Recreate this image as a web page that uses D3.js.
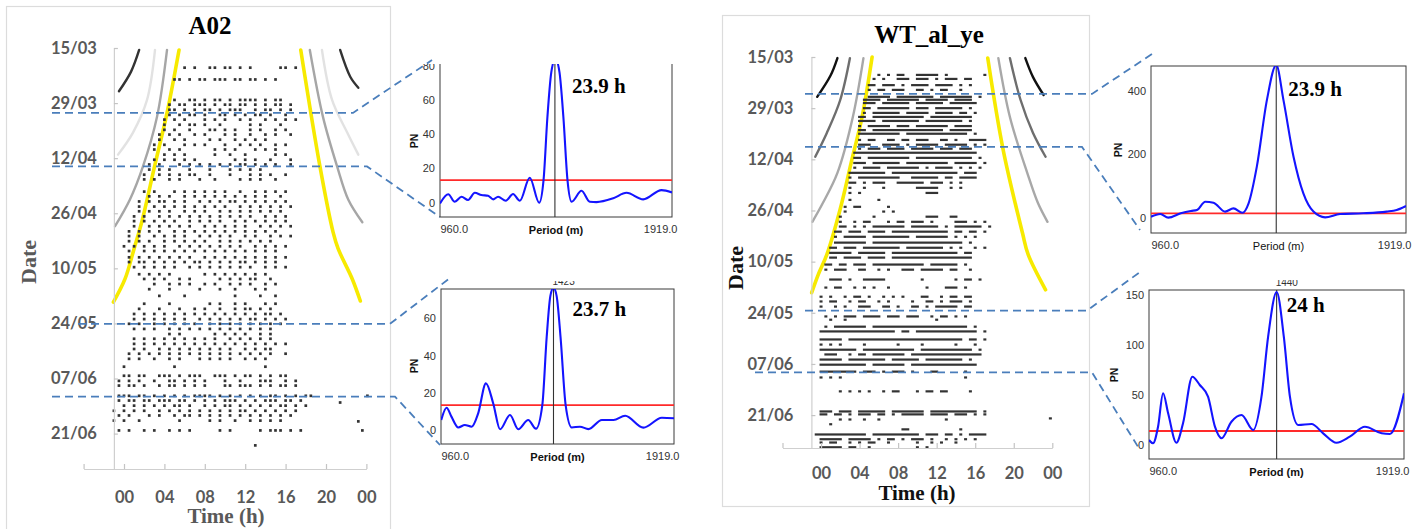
<!DOCTYPE html>
<html><head><meta charset="utf-8">
<script src="https://cdn.jsdelivr.net/npm/d3@7/dist/d3.min.js"></script>
<style>html,body{margin:0;padding:0;background:#fff;} svg{display:block;}</style>
</head><body>
<svg id="chart" width="1425" height="529"></svg>
<script>
// ================= DATA =================
const panelTitles = ["A02", "WT_al_ye"];
const dateTickDays = [0, 14, 28, 42, 56, 70, 84, 98];
const dateTickLabels = ["15/03","29/03","12/04","26/04","10/05","24/05","07/06","21/06"];
const hourTicks = [-4, 0, 4, 8, 12, 16, 20, 24];
const hourTickLabels = ["", "00", "04", "08", "12", "16", "20", "00"];
const dayDomain = [0, 107];
const hourDomain = [-4, 24];
const axisCrossHour = -1;
const binStartHour = -1;   // first character of every activity row
const binHours = 0.5;      // each character = 30 min

// A02 activity rows: [day since 15/03, activity string ('o' = active bin)]
const a02Rows = [
 [5,   "..............o.o..oo.oo.o.o.....oo.o."],
 [8,   "............oo.o.oo.ooo.oo.oo.o.o....."],
 [13.2,"............o..oo.o.oo.o.oooo.o.oo...."],
 [14.4,"...........o.oo.ooo.o.oo.oo.o.o.oo.o.."],
 [15.7,"...........oo.o.o.oo.o.ooo..o.oo.o.o.."],
 [17,  "...........o.o.oo.o..oo.o.o.oo.o..o..."],
 [18.2,"..........o.o.o...o.o.o..o.o..o.o.o.o."],
 [19.5,"..........o..o.oo.o..o.....o.o...o...."],
 [20.8,"..........o.o..o...oo.o.o..o.o..o.o..."],
 [22,  ".........o.o.o..o.o...o.o..o..o.o..o.."],
 [23.3,".........o..o.o....o.o..o.o.o.o......."],
 [24.6,"........o.o...o.o.o...o..o.o.o..o.o..."],
 [25.8,"........o..o.o......o.o.o...o.o.o....."],
 [27.1,"..........o.o.o.....o..o..o.....o.o..."],
 [28.4,"........o.o.o.o.o.......o.o.o..o...o.."],
 [29.6,".......o.o...o.o.o.o.o.o.oo.o.o.o..o.."],
 [30.9,".......o.o.o...o...o...o.o.o.o......."],
 [32.2,"......o..o.o.o.oo..o...o...o.o.o..o..."],
 [33.4,"......o.o..o.o...o..o....o.o.o..o....."],
 [36.5,"......o.o...o.o.o.o.o.o..o..o.o.o.o..."],
 [37.7,".......o.o.o..o.o.o.o.o.o.o.o.o..o...."],
 [39,  ".....o.o.oo.o.o..o.o.o.oo.o.o.o.o.o..."],
 [40.3,".....o..o.o.o.o.o.o.o.o..o.o.o.o.o.o.."],
 [41.5,".....o.o.o.o..o.o.o..o.o.o.o.o.o.o...."],
 [42.8,"....o.o..o.o.o.o.o.o.o.o.o.o..o.o.o..."],
 [44,  "....o.o.o.o.o..o.o.o.o..o.o.o.o.o.o..."],
 [45.3,"....o..o.o.o.o.o..o.o.o.o.o..o.o.o.o.."],
 [46.6,"...o.o.o.o..o.o.o.o.o.o.o.o.o.o.o....."],
 [47.8,"...o.o..o.o.o.o..o.o.o.o..o.o..o.o.o.."],
 [49.1,"...o.o.o..o.o.o.o.o..o.o.o.o.o.o......"],
 [50.4,"..o.o.o.o.o..o.o.o.o.o.o.o..o.o.o.o..."],
 [51.6,"...o..o.o.o.o.o.o.o.o.o.o.o.o.o.o....."],
 [53.2,"...o.o.o.o.o.o.o..o.o.o.o.o.o.o.o.o..."],
 [54.4,"...o.oo.o.o.o.o.oo.o.o.o.oo.o.o.o....."],
 [55.7,"....o.o.o.o.o..o.o.o.o.o.o.o..o.o.o..."],
 [57.5,".....o.o.o.o......o.o.o.o.o.o.o......."],
 [58.7,"......o.o.o..o.o.....o.o.o.oo..o......"],
 [60,  "........o..o.o.o..o.o..o.o.o..o.o....."],
 [61.3,".......o...o.....o...o..o...o.o......."],
 [63,  ".........o....o.........o....o..o....."],
 [65,  "......o....o.......o.o..o.o...o.o....."],
 [66.3,".....o...o...o..o.o..o..o.oo.o.o......"],
 [67.6,"....o.o.o.o.o.o.o.o.o.o.o.o.o.oo.o...."],
 [68.9,"....o.o.o.o.o.o..o.o.o.o.o.oo.o.o.o..."],
 [70.1,"...o.o..o.o.o.o.o..o.o.o.o.o.o.o.o...."],
 [71.4,"....o.o.o..o.o.o.o.o.o.o.o.o.o.o......"],
 [72.7,"...........o.o......o.o.o.o..o.o......"],
 [73.9,"....o.o.o.o.o.o.o.o.o..o.o.o.o.o......"],
 [75.2,"....o.o.o.o.o.o.o.o.o.o.o.o.o.o.o.o..."],
 [76.5,"....o.o..o.o.o.o.o.o.o.o..o.o.oo......"],
 [77.7,"...o.o.o.o.o.o.o.o.o.o.o.o.o.o.o..o..."],
 [79,  "...o.o..o..o.o...o.o.o.o..o.o.o......"],
 [81,  "..o.........o.................o......"],
 [83.3,"..oo.oo..ooo.o.ooo..ooo.o.oo.o.o.oo..."],
 [84.6,".o.o.o..o..oo.o.o.o...o..o...ooo..o.o.."],
 [85.8,".o.oo.o..o.oo.o.o.o...oo.ooo.o.o.oo.o.."],
 [88.4,".ooo.oo.o.o.o.o.oooo.o.o.o.o.o.oo.o.o.oo"],
 [89.6,".o.oo.oo.ooo.oo.o.o.o.ooo.o.o.ooo.oo.o."],
 [90.9,"..o.o.o.o.o.oo.o..o.o.oo.o.o.o.o.oo.o.o"],
 [92.2,"o.o.o.o..o.o.o.o.o.o.o.o.oo.o.o.o.o.o.."],
 [93.4,".o.o...o.o..o.oo.o.o.o.o.o.o.o.o.o.o..."],
 [94.7,"o.o..o.......o.....o.o..o..o.o.o.o...."],
 [97.2,".o.o..o.o..o.o.o.....o.o.....o.ooo.o.o."],
 [101, "............................o........."]
];
// isolated late-evening bouts: [day, hour]
const a02LateBouts = [[88.4, 24.1], [90.1, 21.4], [94.9, 23.2], [97.2, 23.6]];

const wtRows = [
 [4.9, "..............o.o.oo..ooooo.o.......o."],
 [6,   ".............o.o..ooo.ooo.o.ooo.oo...."],
 [7.7, "............oo.ooo.o.oooo.oooo.o.o...."],
 [9,   "............o.oo.ooo..oo.o.oo..o......"],
 [10.9,"............ooooo.oooooooo.ooooooo.o.."],
 [11.7,"...........oooo.ooooooo.ooooo.oooo...."],
 [12.6,"...........ooo.oooooo.oooooo.oooooo..."],
 [14,  "...........oo.ooooooo.ooo.oooooo.o...."],
 [15.3,"...........o.oooooo.ooooo.oooo.oo.o..."],
 [16.4,"..........oo.ooooooooooo.ooooooooo...."],
 [17.5,"..........oooo.oooooooo.oooooooo.o...."],
 [18.9,"..........o.ooooo.ooo.ooooooo.oooo...."],
 [20,  "..........oo.ooooooooooooooo.ooooo...."],
 [21,  "..........ooooooooo.ooooooooooooo.o..."],
 [22.7,"..........o.oo..oo.oo.ooo..oo.o..oooo."],
 [24,  "..........ooo..oooo.o.ooooo.ooooo.o.o."],
 [25.1,"..........o.ooo.oooo.ooooo.ooo.ooo...."],
 [26.2,".........oooooooooooooooooooooooooo...."],
 [27.6,".........oo.ooooooooo.oooooooooooo.o..."],
 [29,  ".........ooo.oooooo.ooooooooo.ooooo.o.."],
 [30.3,".........o.oooo.ooooooo.o.oooo.o.o.o..."],
 [31.7,"........oooooooo.oooooooooooooo.ooo...."],
 [33,  "........o.ooooooooo..oooooo.oo.oooo...."],
 [34.4,"........oo.o.ooo..oooooo.ooo.o.o......."],
 [35.8,"........o..o...o......ooooo..o.o......."],
 [37.2,"........o.o.............ooo..........."],
 [39.1,"........o.....o........................"],
 [41,  ".......o.oo.....o......................"],
 [42.3,".......o.......o.o....................."],
 [43.7,"......o......o..........ooo..oo........"],
 [45.1,"......o..o.oo...o.oo.ooo.o....ooo.o.o.."],
 [46.4,"......oo.o.o.ooooooo.oooooo.o.oooooo.o."],
 [47.8,".....oo.ooo.oooo.oooooooooooo.oo.oo.o.."],
 [49.2,".....o.ooooo.oooooooo.ooooooo.o.o.o...."],
 [50.8,".....ooooooo.ooooooooooooooooooo.o....."],
 [52.2,"....oo.ooo.oooooooo.oooooooo.o.o..o.o.."],
 [53.6,"....ooooo.oooooo.oooooooooooooo.oo....."],
 [54.9,"....oo.oooo.oooo.ooooooooooooooooo....."],
 [56.8,"...oo.oo.ooo.ooooooooooo.oooooo.o......"],
 [58.2,"...o.ooo..oo..o.o..ooo.ooooo.oo..o....."],
 [60.9,"....ooo.o..ooooo.......o......o.oo.o..."],
 [63.1,"...o.oo..o.o.o..o.......o...ooo.o......"],
 [65.6,"..o.o..o.oo.o..o.o.o...oo..o.oo.oo....."],
 [66.9,"..o.oo..o.oo..o.o....o..oo.o.ooo.o....."],
 [68.3,"..o..o.o..ooo..oo.o..oo.o.ooooo.oo....."],
 [71,  "...o.o.ooo.oooo.ooo.ooo..o.oo.o.o......"],
 [71.9,"....o..o..................o..........."],
 [73.8,"...o.ooooooo.oooooooooooooooooooo.o...."],
 [75.1,"..oooooooooooooooo.oo.ooooooooooooo.o.."],
 [77.3,"..ooooo.oooooooooooooooooooooooo.oo.o.."],
 [78.7,"..o.o.o....o......o....o......o...o...."],
 [80.1,"..oooooooo.ooooooooooo.ooooooooooo.o..."],
 [81.4,"...ooo..o.oo.ooooooo.ooooooooooooooo..."],
 [82.8,"..ooooo.oooooooo.oooooo.oooooooo.o....."],
 [84.2,"..oooooooooo.ooooooo.oooooooooooooo...."],
 [86.1,"..oooooooo.ooo.o.ooo.o...oo.....o......"],
 [87.7,"..o.o.o.........................o......"],
 [91.5,"......o.o.o.o..o.oo...o.oo.oo....o...."],
 [97,  "..ooo.ooo.oooooo.ooooooo.oooooooooo.o.."],
 [97.8,"..oo.oo.o.ooo.oo.o.ooooo.oooo.ooo.o.o.."],
 [99.2,"......o.o..o..o.............o........."],
 [100.5,"....o............................."],
 [101.9,"...................oo..........o......"],
 [103.3,".ooooooooooo.oooooooooo.ooo.oo.o.oooo..."],
 [104.6,"..ooooo.ooooo.o.oo.o.ooo.o..o.o.o.o...."],
 [105.5,"..o.oo..o.o.oo..o.....o..o.o..o......"],
 [106.8,"..ooooo.oo..o.........o.o............."]
];
const wtLateBouts = [[98.9, 23.8]];

// sunrise / sunset and twilight curves: [day, hour]
const a02Sunrise = [[0.5,5.45],[16.5,4.26],[29.6,3.07],[44,1.78],[51,1.0],[58.7,0.1],[64.6,-1.05]];
const a02Sunset  = [[0.5,17.5],[30.1,19.4],[46.8,20.7],[51,21.2],[58.7,22.6],[64.3,23.4]];
const a02DawnAstro    = [[0.5,1.5],[6,0.7],[11,-0.5]];
const a02DawnNautical = [[0.5,3.07],[13.2,2.28],[21.5,0.89],[27.1,-0.59]];
const a02DawnCivil    = [[0.5,4.26],[17.5,3.27],[30.1,1.88],[38.5,0.59],[45.3,-0.89]];
const a02DuskCivil    = [[0.5,18.4],[17.5,19.7],[30.1,21.1],[38.5,22.2],[44.3,23.6]];
const a02DuskNautical = [[0.5,19.6],[13.2,20.6],[21.5,22.1],[27.1,23.2]];
const a02DuskAstro    = [[0.5,21.4],[7.3,22.4],[10.1,23.2]];

const wtSunrise = [[0,5.3],[16.4,4.26],[28.1,3.2],[41.8,1.97],[54.1,0.6],[59.6,-0.3],[64.5,-0.97]];
const wtSunset  = [[0.3,17.3],[25.4,18.9],[48.1,20.9],[54.1,21.5],[63.7,23.3]];
const wtDawnAstro    = [[0.3,1.7],[5,1.0],[10.9,-0.4]];
const wtDawnNautical = [[0.3,3.0],[11.7,2.0],[20.8,0.6],[27.3,-0.6]];
const wtDawnCivil    = [[0.3,4.4],[16.4,3.3],[31.7,1.7],[39.9,0.2],[45.1,-0.9]];
const wtDuskCivil    = [[0.3,18.4],[16.4,19.6],[31.7,21.4],[39.9,22.5],[45.1,23.5]];
const wtDuskNautical = [[0.3,19.6],[11.7,20.7],[20.8,22.0],[27.3,23.3]];
const wtDuskAstro    = [[0.3,21.2],[5.5,22.0],[10.4,23.1]];

// analysed windows (day ranges) linked to the periodograms
const a02WindowDays = [[16.5, 30.1], [70.1, 88.6]];
const wtWindowDays  = [[10.1, 24.6], [69.4, 86.3]];

// Lomb-Scargle periodograms
const periodRange = [960, 1919];
const pgA02aPeriod = [960,994,1021,1049,1076,1104,1131,1159,1180,1200,1232,1262,1290,1331,1370,1388,1404,1420,1437,1454,1470,1487,1504,1545,1579,1607,1676,1731,1800,1876,1919];
const pgA02aPN     = [-0.4,5,0.6,3.5,1.6,5.8,4.5,4.1,2.0,3.5,1.2,5.1,1.2,14.6,0,13.2,50,76,84,76,50,13.2,0.6,7,0.6,0.4,2.6,5.8,2.0,7.4,6];
const pgA02bPeriod = [961,983,1003,1031,1058,1086,1113,1145,1175,1203,1244,1278,1319,1351,1377,1395,1410,1423,1436,1452,1473,1498,1532,1567,1622,1670,1718,1793,1869,1919];
const pgA02bPN     = [5.4,12,7.2,1.4,2.7,1.8,9,25.1,14.3,0.4,8.1,0.4,5.4,0.7,13.4,50,72,76.5,72,50,13.4,1.4,1.8,0.5,5.4,5.4,7.7,1.3,6.6,6.3];
const pgWTaPeriod  = [960,995,1025,1072,1110,1133,1164,1195,1239,1270,1304,1327,1358,1396,1431,1458,1496,1533,1571,1615,1671,1758,1846,1884,1919];
const pgWTaPN      = [5,13.5,2,15.7,23,26,52,49,21,31,17.6,47,162,371,480,371,193,78,21,3,13.5,15.7,21,26,38.5];
const pgWTbPeriod  = [960,975,994,1013,1032,1063,1088,1123,1151,1182,1208,1233,1270,1308,1352,1383,1408,1440,1467,1490,1521,1571,1615,1665,1715,1772,1835,1866,1919];
const pgWTbPN      = [5,1.7,18.3,51.7,31.7,2.3,21.7,68.3,60,48.3,18.3,6.7,23.3,30,15,48.3,108.3,153,108.3,48.3,20,21,11.7,2.3,8.3,18.3,11.7,11,51.7];
const pgThresholds = [13.2, 13.4, 15.7, 14];
const pgPeakPeriods = [1435, 1423, 1431, 1440];
const pgPeakLabels = ["23.9 h", "23.7 h", "23.9 h", "24 h"];
const pgTopLabels = ["", "1423", "", "1440"];
const pgYTicks = [[0,20,40,60,80],[0,20,40,60],[0,200,400],[0,50,100,150]];
const pgXLabel = "Period (m)";
const pgYLabel = "PN";

// ================= LAYOUT / STYLE =================
const SERIF = "'Liberation Serif','Times New Roman',serif";
const SANS = "'Liberation Sans',Arial,sans-serif";
const CAL = "Lato,'Liberation Sans',sans-serif";
const svg = d3.select("#chart");

const actoLayout = [
  { title: panelTitles[0], frame: [6.5, 6.5, 384, 540], xr: [83.6, 366.4], yr: [48, 469],
    titleXY: [210, 34], dateXY: [28, 262], timeXY: [226, 523], labelFill: "#595959",
    yPad: 17, xPad: 22,
    rows: a02Rows, late: a02LateBouts, dash: false, markH: 2.7, markW: 2.7,
    sunrise: a02Sunrise, sunset: a02Sunset,
    twilight: [[a02DawnCivil, "#a6a6a6"], [a02DawnNautical, "#e2e2e2"], [a02DawnAstro, "#333"],
               [a02DuskCivil, "#a6a6a6"], [a02DuskNautical, "#e2e2e2"], [a02DuskAstro, "#333"]],
    windows: a02WindowDays,
    conn: [[[52, 353], [432, 60]], [[52, 367], [440, 217]], [[78, 390], [450, 278]], [[52, 395], [440, 445]]] },
  { title: panelTitles[1], frame: [722.5, 15.5, 367, 491], xr: [782.5, 1052.3], yr: [57, 448],
    titleXY: [929, 43], dateXY: [735, 268], timeXY: [917, 500], labelFill: "#111",
    yPad: 18, xPad: 19,
    rows: wtRows, late: wtLateBouts, dash: true, markH: 2.2, markW: 3.0,
    sunrise: wtSunrise, sunset: wtSunset,
    twilight: [[wtDawnCivil, "#a8a8a8"], [wtDawnNautical, "#6e6e6e"], [wtDawnAstro, "#111"],
               [wtDuskCivil, "#a8a8a8"], [wtDuskNautical, "#6e6e6e"], [wtDuskAstro, "#111"]],
    windows: wtWindowDays,
    conn: [[[805, 1092], [1155, 52]], [[805, 1082], [1140, 230]], [[805, 1087], [1140, 272]], [[755, 1092], [1140, 450]]] }
];

function drawActogram(L) {
  const g = svg.append("g");
  const x = d3.scaleLinear().domain(hourDomain).range(L.xr);
  const y = d3.scaleLinear().domain(dayDomain).range(L.yr);

  g.append("rect").attr("x", L.frame[0]).attr("y", L.frame[1]).attr("width", L.frame[2]).attr("height", L.frame[3])
    .attr("fill", "none").attr("stroke", "#dcdcdc").attr("stroke-width", 1.2);

  g.append("text").attr("x", L.titleXY[0]).attr("y", L.titleXY[1]).attr("text-anchor", "middle")
    .attr("font-family", SERIF).attr("font-weight", "bold").attr("font-size", 25).attr("fill", "#000").text(L.title);

  const curve = d3.line().x(d => x(d[1])).y(d => y(d[0])).curve(d3.curveCatmullRom.alpha(0.5));
  L.twilight.forEach(([pts, col]) => {
    g.append("path").attr("d", curve(pts)).attr("fill", "none").attr("stroke", col).attr("stroke-width", 2.4).attr("stroke-linecap", "round");
  });
  [L.sunrise, L.sunset].forEach(pts => {
    g.append("path").attr("d", curve(pts)).attr("fill", "none").attr("stroke", "#f7ea00").attr("stroke-width", 3.6).attr("stroke-linecap", "round");
  });

  // activity
  const marks = [];
  L.rows.forEach(([day, s]) => {
    if (L.dash) {
      let k = 0;
      while (k < s.length) {
        if (s[k] === "o") {
          let e = k;
          while (e + 1 < s.length && s[e + 1] === "o") e++;
          marks.push({ day, h0: binStartHour + k * binHours, h1: binStartHour + e * binHours });
          k = e + 1;
        } else k++;
      }
    } else {
      for (let k = 0; k < s.length; k++) if (s[k] === "o") {
        const h = binStartHour + k * binHours;
        marks.push({ day, h0: h, h1: h });
      }
    }
  });
  L.late.forEach(([day, h]) => marks.push({ day, h0: h, h1: h }));
  const dw = L.markW, dh = L.markH;
  g.append("g").selectAll("rect").data(marks).join("rect")
    .attr("x", d => x(d.h0) - dw / 2).attr("y", d => y(d.day) - dh / 2)
    .attr("width", d => x(d.h1) - x(d.h0) + dw).attr("height", dh)
    .attr("fill", "#333");

  // axes
  const ya = g.append("g").attr("transform", `translate(${x(axisCrossHour)},0)`)
    .call(d3.axisLeft(y).tickValues(dateTickDays).tickFormat((d, i) => dateTickLabels[i])
      .tickSizeInner(-4).tickSizeOuter(0).tickPadding(L.yPad));
  const xa = g.append("g").attr("transform", `translate(0,${y(dayDomain[1])})`)
    .call(d3.axisBottom(x).tickValues(hourTicks).tickFormat((d, i) => hourTickLabels[i])
      .tickSizeInner(-5).tickSizeOuter(0).tickPadding(L.xPad));
  [ya, xa].forEach(a => {
    a.select(".domain").attr("stroke", "#cfcfcf").attr("stroke-width", 1.2);
    a.selectAll(".tick line").attr("stroke", "#c4c4c4").attr("stroke-width", 1.2);
    a.selectAll(".tick text").attr("font-family", CAL).attr("font-weight", "bold").attr("font-size", 16.5).attr("fill", "#595959");
  });

  g.append("text").attr("transform", `translate(${L.dateXY[0]},${L.dateXY[1]}) rotate(-90)`).attr("text-anchor", "middle")
    .attr("dominant-baseline", "central").attr("font-family", SERIF).attr("font-weight", "bold").attr("font-size", 22)
    .attr("fill", L.labelFill).text("Date");
  g.append("text").attr("x", L.timeXY[0]).attr("y", L.timeXY[1]).attr("text-anchor", "middle")
    .attr("font-family", SERIF).attr("font-weight", "bold").attr("font-size", 21).attr("fill", L.labelFill).text("Time (h)");

  // dashed connectors from analysed windows to periodograms
  const days = L.windows.flat();
  days.forEach((d, i) => {
    const [[hx0, hx1], end] = L.conn[i];
    const yy = y(d);
    g.append("path").attr("d", d3.line()([[hx0, yy], [hx1, yy], end]))
      .attr("fill", "none").attr("stroke", "#4a7ebb").attr("stroke-width", 1.8).attr("stroke-dasharray", "8,5");
  });
}

const pgLayout = [
  { P: pgA02aPeriod, V: pgA02aPN, x0: 440, x1: 672, y0: 57, y1: 217, visTop: 64, yDomain: [-8.3, 85], pn: [414, 141], lab: [17, 93], boldX: true },
  { P: pgA02bPeriod, V: pgA02bPN, x0: 441, x1: 674, y0: 289, y1: 444, visTop: 281, yDomain: [-7.5, 75.8], pn: [414, 366], lab: [19, 316], boldX: true },
  { P: pgWTaPeriod, V: pgWTaPN, x0: 1151, x1: 1406, y0: 66, y1: 233, visTop: 40, yDomain: [-46, 477], pn: [1118, 150], lab: [12, 96], boldX: false },
  { P: pgWTbPeriod, V: pgWTbPN, x0: 1149, x1: 1404, y0: 290, y1: 459, visTop: 280, yDomain: [-14, 155], pn: [1114, 375], lab: [10, 312], boldX: true }
];

const defs = svg.append("defs");
function drawPeriodogram(L, i) {
  defs.append("clipPath").attr("id", "vis" + i).append("rect")
    .attr("x", 0).attr("y", L.visTop).attr("width", 1425).attr("height", 529 - L.visTop);
  const plotTop = Math.max(L.y0, L.visTop);
  defs.append("clipPath").attr("id", "plot" + i).append("rect")
    .attr("x", L.x0).attr("y", plotTop).attr("width", L.x1 - L.x0).attr("height", L.y1 - plotTop);

  const g = svg.append("g").attr("clip-path", `url(#vis${i})`);
  const x = d3.scaleLinear().domain(periodRange).range([L.x0, L.x1]);
  const y = d3.scaleLinear().domain(L.yDomain).range([L.y1, L.y0]);

  g.append("rect").attr("x", L.x0).attr("y", L.y0).attr("width", L.x1 - L.x0).attr("height", L.y1 - L.y0)
    .attr("fill", "#fff").attr("stroke", "#3a3a3a").attr("stroke-width", 1);

  const inner = g.append("g").attr("clip-path", `url(#plot${i})`);
  inner.append("line").attr("x1", L.x0).attr("x2", L.x1).attr("y1", y(pgThresholds[i])).attr("y2", y(pgThresholds[i]))
    .attr("stroke", "#ff2a2a").attr("stroke-width", 1.8);
  inner.append("line").attr("x1", x(pgPeakPeriods[i])).attr("x2", x(pgPeakPeriods[i])).attr("y1", L.y0).attr("y2", L.y1)
    .attr("stroke", "#333").attr("stroke-width", 1.1);
  const pts = L.P.map((p, j) => [p, L.V[j]]);
  inner.append("path").attr("d", d3.line().x(d => x(d[0])).y(d => y(d[1])).curve(d3.curveMonotoneX)(pts))
    .attr("fill", "none").attr("stroke", "#1414ff").attr("stroke-width", 2.1);

  const ya = g.append("g").attr("transform", `translate(${L.x0},0)`)
    .call(d3.axisLeft(y).tickValues(pgYTicks[i]).tickSize(0).tickPadding(5));
  ya.select(".domain").remove();
  ya.selectAll("text").attr("font-family", SANS).attr("font-size", 11).attr("fill", "#333");

  const xa = g.append("g").attr("transform", `translate(0,${L.y1})`)
    .call(d3.axisBottom(x).tickValues(periodRange).tickFormat(d3.format(".1f")).tickSize(0).tickPadding(8));
  xa.select(".domain").remove();
  xa.selectAll("text").attr("font-family", SANS).attr("font-size", 11).attr("fill", "#333")
    .attr("text-anchor", (d, j) => j === 0 ? "start" : "end")
    .attr("dx", (d, j) => j === 0 ? 0 : 5);

  g.append("text").attr("x", (L.x0 + L.x1) / 2).attr("y", L.y1 + 17).attr("text-anchor", "middle")
    .attr("font-family", SANS).attr("font-weight", L.boldX ? "bold" : "normal").attr("font-size", 11).attr("fill", "#111").text(pgXLabel);
  g.append("text").attr("transform", `translate(${L.pn[0]},${L.pn[1]}) rotate(-90)`).attr("text-anchor", "middle")
    .attr("dominant-baseline", "central").attr("font-family", SANS).attr("font-weight", "bold").attr("font-size", 10.5)
    .attr("fill", "#111").text(pgYLabel);

  if (pgTopLabels[i]) {
    g.append("text").attr("x", x(pgPeakPeriods[i]) - 1).attr("y", L.y0 - 4).attr("font-family", SANS).attr("font-size", 10)
      .attr("fill", "#333").text(pgTopLabels[i]);
  }
  g.append("text").attr("x", x(pgPeakPeriods[i]) + L.lab[0]).attr("y", L.lab[1])
    .attr("font-family", SERIF).attr("font-weight", "bold").attr("font-size", 21).attr("fill", "#000").text(pgPeakLabels[i]);
}

actoLayout.forEach(drawActogram);
pgLayout.forEach(drawPeriodogram);
</script>
</body></html>
